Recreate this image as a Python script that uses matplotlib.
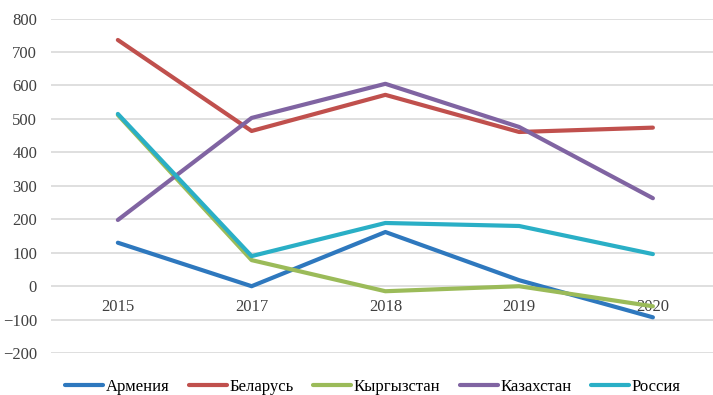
import matplotlib.pyplot as plt

years = ['2015', '2017', '2018', '2019', '2020']
armenia = [130, 0, 162, 18, -93]
belarus = [736, 464, 572, 461, 474]
kyrgyzstan = [512, 78, -15, 0, -60]
kazakhstan = [198, 503, 605, 476, 263]
russia = [515, 90, 189, 180, 96]

names = ['Армения', 'Беларусь', 'Кыргызстан', 'Казахстан', 'Россия']
colors = ['#2E78BE', '#C0504D', '#9BBB59', '#8064A2', '#2AAFC6']

plt.rcParams['font.family'] = ['Liberation Serif', 'DejaVu Serif']

fig = plt.figure(figsize=(7.13, 3.95), dpi=100)
ax = fig.add_axes([0.0715, 0.106, 0.938, 0.847])

x = range(len(years))
for vals, name, c in zip([armenia, belarus, kyrgyzstan, kazakhstan, russia], names, colors):
    ax.plot(x, vals, color=c, lw=3, label=name, solid_capstyle='round')

ax.set_xlim(-0.5, 4.5)
ax.set_ylim(-200, 800)
ax.set_yticks(range(-200, 801, 100))
ax.set_xticks(list(x))
ax.set_xticklabels(years)
ax.grid(axis='y', color='#d9d9d9', lw=1.2)
ax.set_axisbelow(True)
for s in ax.spines.values():
    s.set_visible(False)
ax.spines['bottom'].set_position(('data', 0))
ax.tick_params(length=0, labelsize=12, colors='#404040')
ax.tick_params(axis='x', pad=9)
ax.tick_params(axis='y', pad=10)

fig.legend(loc='lower center', bbox_to_anchor=(0.523, -0.038), ncol=5, frameon=False,
           fontsize=12, handlelength=2.3, handletextpad=0.15, columnspacing=1.15)

fig.savefig('out.png', dpi=100)
